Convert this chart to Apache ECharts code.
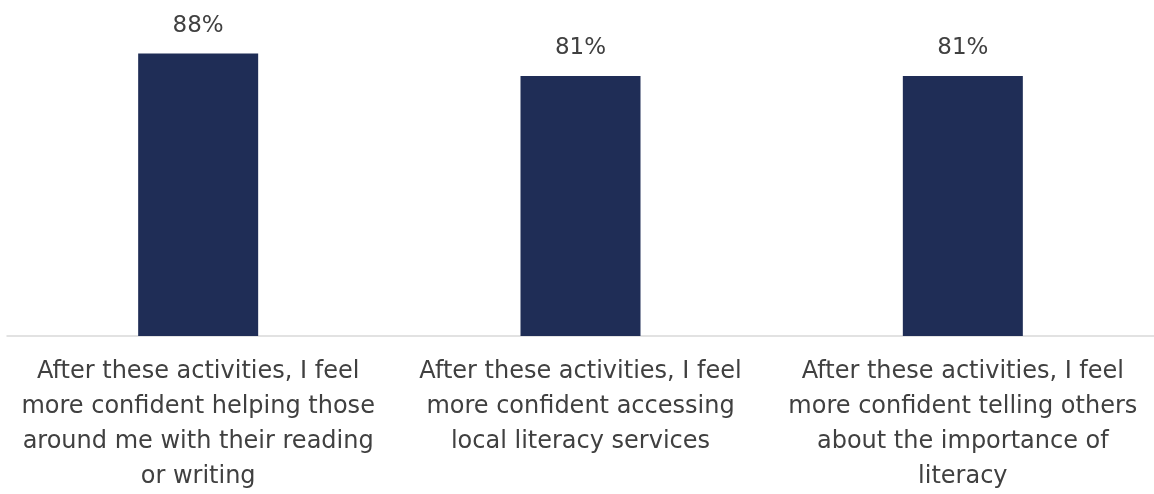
<!DOCTYPE html>
<html><head><meta charset="utf-8">
<script src="https://cdn.jsdelivr.net/npm/echarts@6/dist/echarts.min.js"></script>
<style>html,body{margin:0;padding:0;background:#fff}#c{width:1154px;height:494px}</style>
</head><body><div id="c"></div>
<script>
const categories = [
  "After these activities, I feel\nmore confident helping those\naround me with their reading\nor writing",
  "After these activities, I feel\nmore confident accessing\nlocal literacy services",
  "After these activities, I feel\nmore confident telling others\nabout the importance of\nliteracy"
];
const values = [88, 81, 81];

const chart = echarts.init(document.getElementById('c'));
chart.setOption({
  animation: false,
  grid: { left: 7, width: 1152, top: 15, height: 324, containLabel: false },
  xAxis: {
    type: 'category',
    data: categories,
    axisLine: { lineStyle: { color: '#d9d9d9', width: 1.5 } },
    axisTick: { show: false },
    axisLabel: { color: '#404040', fontSize: 24, fontFamily: 'DejaVu Sans', lineHeight: 35, margin: 18, interval: 0 }
  },
  yAxis: { type: 'value', min: 0, max: 100, show: false, splitLine: { show: false } },
  series: [{
    type: 'bar',
    data: values,
    barWidth: 120,
    itemStyle: { color: '#1f2d56' },
    label: { show: true, position: 'top', distance: 16, formatter: '{c}%', color: '#404040', fontSize: 23, fontFamily: 'DejaVu Sans' }
  }]
});
</script></body></html>
